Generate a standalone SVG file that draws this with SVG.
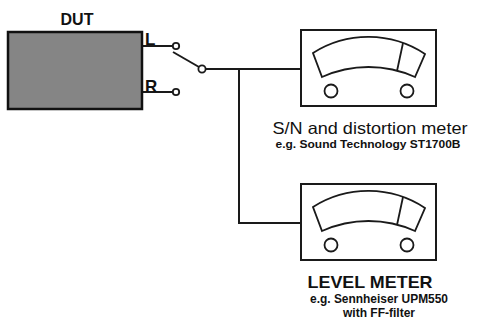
<svg xmlns="http://www.w3.org/2000/svg" xmlns:xlink="http://www.w3.org/1999/xlink" width="477" height="323" viewBox="0 0 477 323">
<style>
.ln{fill:none;stroke:#1a1a1a;stroke-width:2}
.term{fill:#fff;stroke:#1a1a1a;stroke-width:1.8}
.t{font-family:"Liberation Sans",Arial,sans-serif;fill:#111}
.b{font-weight:bold}
</style>
<defs>
<g id="dial">
<rect x="0" y="0" width="135" height="76" fill="#fff" stroke="#1a1a1a" stroke-width="2"/>
<path d="M12,23 A103,103 0 0 1 124,24 L114,47 A113,113 0 0 0 21,47 Z" fill="#fff" stroke="#1a1a1a" stroke-width="1.8"/>
<path d="M102,13 L96,41" fill="none" stroke="#1a1a1a" stroke-width="1.8"/>
<circle cx="30" cy="61" r="6.5" fill="#fff" stroke="#1a1a1a" stroke-width="1.8"/>
<circle cx="106" cy="61" r="6.5" fill="#fff" stroke="#1a1a1a" stroke-width="1.8"/>
</g>
</defs>
<rect width="477" height="323" fill="#fff"/>
<g id="connectors">
<path class="ln" d="M142,46 H173"/>
<path class="ln" d="M142,92 H173"/>
<path class="ln" d="M173,52 L199,67"/>
<path class="ln" d="M205.5,69 H301"/>
<path class="ln" d="M239,69 V223 H301"/>
</g>
<g id="dut">
<rect x="8" y="32" width="134" height="77" fill="#858585" stroke="#111" stroke-width="2.5"/>
<text class="t b" x="77" y="25" font-size="16" text-anchor="middle">DUT</text>
<text class="t b" x="145" y="45" font-size="17">L</text>
<text class="t b" x="145" y="92" font-size="17">R</text>
</g>
<g id="switch">
<circle class="term" cx="176" cy="46" r="3.2"/>
<circle class="term" cx="176" cy="92" r="3.2"/>
<circle class="term" cx="202" cy="69" r="3.6"/>
</g>
<g id="sn-meter">
<use xlink:href="#dial" x="301" y="30"/>
<text class="t" x="370" y="134" font-size="16.5" text-anchor="middle" textLength="195" lengthAdjust="spacingAndGlyphs">S/N and distortion meter</text>
<text class="t b" x="368" y="148" font-size="11.5" text-anchor="middle" textLength="185" lengthAdjust="spacingAndGlyphs">e.g. Sound Technology ST1700B</text>
</g>
<g id="level-meter">
<use xlink:href="#dial" x="301" y="184"/>
<text class="t b" x="370" y="288" font-size="17" text-anchor="middle" textLength="125" lengthAdjust="spacingAndGlyphs">LEVEL METER</text>
<text class="t b" x="379" y="303" font-size="12" text-anchor="middle" textLength="138" lengthAdjust="spacingAndGlyphs">e.g. Sennheiser UPM550</text>
<text class="t b" x="379" y="317" font-size="12" text-anchor="middle">with FF-filter</text>
</g>
</svg>
